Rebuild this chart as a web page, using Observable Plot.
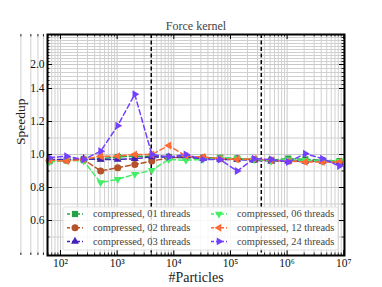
<!DOCTYPE html>
<html>
<head>
<meta charset="utf-8">
<script src="https://cdn.jsdelivr.net/npm/d3@7"></script>
<script src="https://cdn.jsdelivr.net/npm/@observablehq/plot@0.6"></script>
<style>
  html, body { margin: 0; padding: 0; background: #fff; }
  #chart { width: 382px; height: 287px; }
</style>
</head>
<body>
<div id="chart"></div>
<script>
// ---------- data ----------
const particles = [64, 128, 256, 512, 1024, 2048, 4096, 8192, 16384, 32768, 65536,
  131072, 262144, 524288, 1048576, 2097152, 4194304, 8388608];

const seriesNames = ["compressed, 01 threads", "compressed, 02 threads", "compressed, 03 threads",
  "compressed, 06 threads", "compressed, 12 threads", "compressed, 24 threads"];

const t01 = [0.960, 0.965, 0.970, 0.975, 0.985, 0.990, 0.990, 0.985, 0.980, 0.980, 0.980, 0.975, 0.970, 0.965, 0.975, 0.970, 0.965, 0.960];
const t02 = [0.965, 0.965, 0.970, 0.900, 0.920, 0.940, 0.960, 0.980, 0.985, 0.980, 0.975, 0.975, 0.970, 0.965, 0.960, 0.960, 0.960, 0.955];
const t03 = [0.970, 0.970, 0.975, 0.970, 0.970, 0.975, 0.985, 0.985, 0.985, 0.975, 0.970, 0.970, 0.965, 0.960, 0.960, 0.960, 0.960, 0.950];
const t06 = [0.955, 0.965, 0.960, 0.830, 0.850, 0.880, 0.905, 0.970, 0.965, 0.970, 0.980, 0.975, 0.970, 0.960, 0.970, 0.965, 0.960, 0.960];
const t12 = [0.965, 0.960, 0.970, 0.990, 0.990, 1.000, 1.000, 1.055, 0.990, 0.985, 0.975, 0.970, 0.975, 0.965, 0.960, 0.955, 0.955, 0.955];
const t24 = [0.980, 0.990, 0.970, 1.020, 1.175, 1.365, 1.000, 0.985, 1.000, 0.970, 0.970, 0.900, 0.975, 0.970, 0.955, 1.005, 0.975, 0.930];

const seriesValues = [t01, t02, t03, t06, t12, t24];
const seriesColors = ["#25a244", "#b4532a", "#4422b8", "#44ee66", "#ff6a35", "#7340ff"];
const seriesMarkers = ["square", "circle", "up", "down", "left", "right"];

const cacheLines = [4000, 350000];

const xMajor = [1e2, 1e3, 1e4, 1e5, 1e6, 1e7];
const xMajorLabels = ["10²", "10³", "10⁴", "10⁵", "10⁶", "10⁷"];
const xMinor = [];
for (let e = 1; e <= 6; e++) for (let m = 2; m <= 9; m++) xMinor.push(m * Math.pow(10, e));

const yMajor = [0.6, 0.8, 1.0, 1.2, 1.4, 2.0];
const yMajorLabels = ["0.6", "0.8", "1.0", "1.2", "1.4", "2.0"];
const yMinor = [0.5, 0.7, 0.9, 1.1, 1.3, 1.5, 1.6, 1.7, 1.8, 1.9, 2.1, 2.2, 2.3, 2.4, 2.5, 2.6, 2.7, 2.8, 2.9];

// ---------- layout ----------
const W = 382, H = 287;
const mL = 47, mR = 38, mT = 34, mB = 32;
const pw = W - mL - mR, ph = H - mT - mB;

// ---------- markers ----------
function tri(angleDeg) {
  const a = angleDeg * Math.PI / 180, c = Math.cos(a), s = Math.sin(a);
  return {
    draw(ctx, size) {
      size = size * 0.7;
      const y = -Math.sqrt(size / (Math.sqrt(3) * 3));
      const pts = [[0, y * 2], [-Math.sqrt(3) * y, -y], [Math.sqrt(3) * y, -y]]
        .map(([px, py]) => [px * c - py * s, px * s + py * c]);
      ctx.moveTo(pts[0][0], pts[0][1]);
      ctx.lineTo(pts[1][0], pts[1][1]);
      ctx.lineTo(pts[2][0], pts[2][1]);
      ctx.closePath();
    }
  };
}
const symbolFor = {
  square: d3.symbolSquare, circle: d3.symbolCircle,
  up: tri(0), down: tri(180), left: tri(-90), right: tri(90)
};

// ---------- marks ----------
const serif = "'Liberation Serif', 'DejaVu Serif', serif";
const marks = [];
// grid
marks.push(Plot.ruleX(xMinor, {x: d => d, stroke: "#d0d0d0", strokeWidth: 1}));
marks.push(Plot.ruleX(xMajor, {x: d => d, stroke: "#c8c8c8", strokeWidth: 1}));
marks.push(Plot.ruleY(yMinor, {y: d => d, stroke: "#d0d0d0", strokeWidth: 1}));
marks.push(Plot.ruleY(yMajor, {y: d => d, stroke: "#c8c8c8", strokeWidth: 1}));
// cache lines
marks.push(Plot.ruleX(cacheLines, {x: d => d, stroke: "#000", strokeWidth: 1.5, strokeDasharray: "4,2.5"}));
// series
seriesValues.forEach((vals, i) => {
  const data = particles.map((p, j) => ({p, v: vals[j]}));
  marks.push(Plot.line(data, {x: "p", y: "v", stroke: seriesColors[i], strokeWidth: 1.5, strokeDasharray: "5,3"}));
  marks.push(Plot.dot(data, {x: "p", y: "v", fill: seriesColors[i], stroke: "none", r: 3.5, symbol: symbolFor[seriesMarkers[i]]}));
});
// inward ticks
marks.push(Plot.ruleX(xMajor, {x: d => d, stroke: "#000", strokeWidth: 1, insetTop: ph - 5}));
marks.push(Plot.ruleX(xMajor, {x: d => d, stroke: "#000", strokeWidth: 1, insetBottom: ph - 5}));
marks.push(Plot.ruleX(xMinor, {x: d => d, stroke: "#000", strokeWidth: 0.8, insetTop: ph - 2.5}));
marks.push(Plot.ruleX(xMinor, {x: d => d, stroke: "#000", strokeWidth: 0.8, insetBottom: ph - 2.5}));
marks.push(Plot.ruleY(yMajor, {y: d => d, stroke: "#000", strokeWidth: 1, insetRight: pw - 5}));
marks.push(Plot.ruleY(yMajor, {y: d => d, stroke: "#000", strokeWidth: 1, insetLeft: pw - 5}));
marks.push(Plot.ruleY(yMinor, {y: d => d, stroke: "#000", strokeWidth: 0.8, insetRight: pw - 2.5}));
marks.push(Plot.ruleY(yMinor, {y: d => d, stroke: "#000", strokeWidth: 0.8, insetLeft: pw - 2.5}));
// frame
marks.push(Plot.frame({stroke: "#000", strokeWidth: 2}));
// tick labels
marks.push(Plot.text(xMajor, {x: d => d, text: (d, i) => xMajorLabels[i], frameAnchor: "bottom", lineAnchor: "middle", dy: 8,
  fontSize: 11.5, fontFamily: serif, fill: "#111"}));
marks.push(Plot.text(yMajor, {y: d => d, text: (d, i) => yMajorLabels[i], frameAnchor: "left", lineAnchor: "middle", textAnchor: "end", dx: -3,
  fontSize: 11.5, fontFamily: serif, fill: "#111"}));
// titles
marks.push(Plot.text(["Force kernel"], {frameAnchor: "top", lineAnchor: "middle", dy: -8, fontSize: 12, fontFamily: serif, fill: "#444"}));
marks.push(Plot.text(["#Particles"], {frameAnchor: "bottom", lineAnchor: "middle", dy: 22, fontSize: 14, fontFamily: serif, fill: "#222"}));
marks.push(Plot.text(["Speedup"], {frameAnchor: "left", lineAnchor: "middle", dx: -27, rotate: -90, fontSize: 13.5, fontFamily: serif, fill: "#222"}));

const svg = Plot.plot({
  width: W, height: H,
  marginLeft: mL, marginRight: mR, marginTop: mT, marginBottom: mB,
  style: {background: "#fff", overflow: "visible"},
  x: {type: "log", domain: [59, 1.03e7], axis: null},
  y: {type: "linear", domain: [0.388, 1.4, 2.0, 3.0], range: [H - mB, 88, 64, mT], axis: null},
  marks
});

// ---------- legend ----------
const g = d3.select(svg).append("g").style("font-family", serif).attr("text-anchor", "start");
const lx = 63, ly = 207, lw = 275, lh = 43;
g.append("rect").attr("x", lx).attr("y", ly).attr("width", lw).attr("height", lh).attr("rx", 2)
  .attr("fill", "#fff").attr("fill-opacity", 0.85).attr("stroke", "#d8d8d8").attr("stroke-width", 0.8);
seriesNames.forEach((name, i) => {
  const col = i < 3 ? 0 : 1, row = i % 3;
  const cx = col === 0 ? 75 : 219;
  const cy = 214 + row * 13.7;
  g.append("line").attr("x1", cx - 8).attr("x2", cx + 8).attr("y1", cy).attr("y2", cy)
    .attr("stroke", seriesColors[i]).attr("stroke-width", 1.5).attr("stroke-dasharray", "3,2");
  g.append("path").attr("transform", `translate(${cx},${cy})`)
    .attr("d", d3.symbol(symbolFor[seriesMarkers[i]], Math.PI * 3.5 * 3.5)())
    .attr("fill", seriesColors[i]);
  g.append("text").attr("x", cx + 18).attr("y", cy).attr("dy", "0.33em").attr("text-anchor", "start")
    .style("font-family", serif).style("font-size", "10.4px").attr("fill", "#444").text(name);
});

document.getElementById("chart").appendChild(svg);
</script>
</body>
</html>
